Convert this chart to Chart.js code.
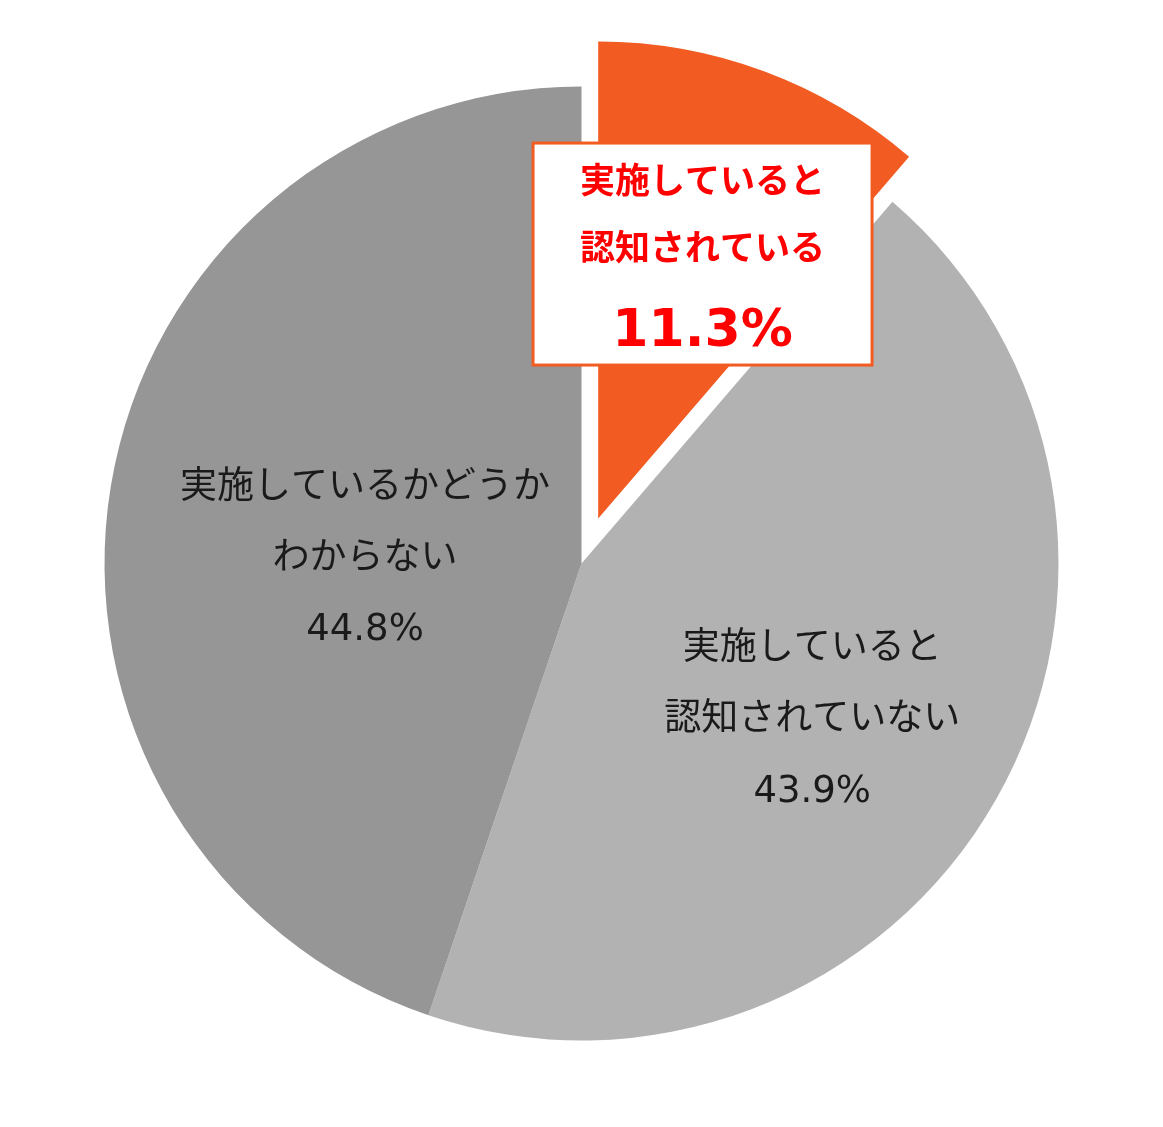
<!DOCTYPE html>
<html lang="ja">
<head>
    <meta charset="UTF-8">
    <title>認知状況</title>
    <style>
        body {
            margin: 0;
            padding: 0;
            background-color: #fff;
        }
        .container {
            width: 1163px;
            height: 1127px;
        }
    </style>
    <script src="https://cdn.jsdelivr.net/npm/chart.js"></script>
</head>
<body>
    <div class="container">
        <canvas id="pieChart"></canvas>
    </div>
    <script>
        // Data
        const categories = [
            ['実施していると', '認知されている'],
            ['実施していると', '認知されていない'],
            ['実施しているかどうか', 'わからない']
        ];
        const shares = [11.3, 43.9, 44.8];
        const sliceColors = ['#F25C22', '#B2B2B2', '#969696'];

        // how far each slice is pulled out, and where its label sits
        const explode = [48, 0, 0];
        const labelRadius = [0.596, 0.582, 0.454];
        const labelAngleShift = [1.2, 4.1, -7.6]; // degrees

        const FONT = '"Noto Sans CJK JP", "Noto Sans", sans-serif';
        const NUM_FONT = '"DejaVu Sans", Verdana, sans-serif';

        function shiftOf(arc, i) {
            const mid = (arc.startAngle + arc.endAngle) / 2;
            return { dx: Math.cos(mid) * explode[i], dy: Math.sin(mid) * explode[i] };
        }

        // draws the arcs itself so one slice can be pulled out without growing
        const explodePlugin = {
            id: 'explode',
            beforeDatasetDraw(chart, args) {
                const ctx = chart.ctx;
                args.meta.data.forEach((arc, i) => {
                    const s = shiftOf(arc, i);
                    ctx.save();
                    ctx.translate(s.dx, s.dy);
                    arc.draw(ctx);
                    ctx.restore();
                });
                return false;
            }
        };

        const labelPlugin = {
            id: 'sliceLabels',
            afterDatasetsDraw(chart) {
                const ctx = chart.ctx;
                const meta = chart.getDatasetMeta(0);
                meta.data.forEach((arc, i) => {
                    const s = shiftOf(arc, i);
                    const a = (arc.startAngle + arc.endAngle) / 2 + labelAngleShift[i] * Math.PI / 180;
                    const r = arc.outerRadius * labelRadius[i];
                    const x = arc.x + s.dx + Math.cos(a) * r;
                    const y = arc.y + s.dy + Math.sin(a) * r;
                    const lines = categories[i].concat([shares[i].toFixed(1) + '%']);
                    ctx.save();
                    ctx.textAlign = 'center';
                    ctx.textBaseline = 'middle';
                    if (i === 0) {
                        // highlighted label in a box
                        const w = 339, h = 222;
                        ctx.fillStyle = '#fff';
                        ctx.fillRect(x - w / 2, y - h / 2, w, h);
                        ctx.lineWidth = 3;
                        ctx.strokeStyle = sliceColors[0];
                        ctx.strokeRect(x - w / 2, y - h / 2, w, h);
                        ctx.fillStyle = '#FF0000';
                        ctx.font = 'bold 35px ' + FONT;
                        ctx.fillText(lines[0], x, y - 74);
                        ctx.fillText(lines[1], x, y - 7);
                        ctx.font = 'bold 52px ' + NUM_FONT;
                        ctx.fillText(lines[2], x, y + 78);
                    } else {
                        ctx.fillStyle = '#1a1a1a';
                        ctx.font = '37px ' + FONT;
                        ctx.fillText(lines[0], x, y - 73);
                        ctx.fillText(lines[1], x, y - 2);
                        ctx.font = '37px ' + NUM_FONT;
                        ctx.fillText(lines[2], x, y + 74);
                    }
                    ctx.restore();
                });
            }
        };

        const config = {
            type: 'pie',
            data: {
                labels: categories.map(c => c.join('')),
                datasets: [{
                    data: shares,
                    backgroundColor: sliceColors,
                    borderWidth: 0,
                    radius: 477
                }]
            },
            options: {
                responsive: true,
                maintainAspectRatio: false,
                animation: false,
                events: [],
                layout: { padding: 0 },
                plugins: {
                    legend: { display: false },
                    tooltip: { enabled: false }
                }
            },
            plugins: [explodePlugin, labelPlugin]
        };

        const pieChart = new Chart(document.getElementById('pieChart'), config);
    </script>
</body>
</html>
